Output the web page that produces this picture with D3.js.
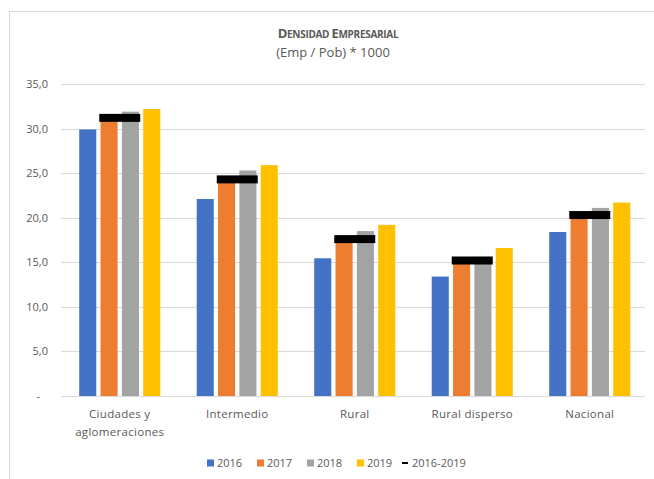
<!DOCTYPE html>
<meta charset="utf-8">
<html>
<head>
  <script src="https://d3js.org/d3.v7.min.js"></script>
  <style>
    body { margin: 0; background: #fff; }
    text { font-family: "Open Sans", sans-serif; fill: #595959; }
  </style>
</head>
<body>
<div id="chart"></div>
<script>
// data
var categories = ["Ciudades y aglomeraciones", "Intermedio", "Rural", "Rural disperso", "Nacional"];
var years = ["2016", "2017", "2018", "2019"];
var v2016 = [29.9, 22.1, 15.45, 13.4, 18.4];
var v2017 = [30.8, 24.0, 17.3, 15.0, 20.0];
var v2018 = [31.9, 25.3, 18.5, 15.6, 21.1];
var v2019 = [32.2, 25.9, 19.2, 16.6, 21.7];
var prom = [31.2, 24.3, 17.6, 15.2, 20.3]; // 2016-2019
var yTicks = [0, 5, 10, 15, 20, 25, 30, 35];

var series = [v2016, v2017, v2018, v2019];
var colores = ["#4472C4", "#ED7D31", "#A3A3A3", "#FFC000"];

var W = 654, H = 479;
var svg = d3.select("#chart").append("svg")
  .attr("width", W).attr("height", H);

// light frame (only top/left visible in the original)
svg.append("rect")
  .attr("x", 9.5).attr("y", 11.5)
  .attr("width", 700).attr("height", 600)
  .attr("fill", "none").attr("stroke", "#D9D9D9");

var x0 = d3.scaleBand().domain(categories)
  .range([61, 648.5]).paddingInner(0.31).paddingOuter(0.155);
var x1 = d3.scaleBand().domain(years)
  .range([0, x0.bandwidth()]).paddingInner(0.2);
var y = d3.scaleLinear().domain([0, 35]).range([396, 84]);

// gridlines
svg.append("g").selectAll("line")
  .data(yTicks)
  .enter().append("line")
  .attr("x1", 61).attr("x2", 645)
  .attr("y1", function(d) { return Math.round(y(d)) + 0.5; })
  .attr("y2", function(d) { return Math.round(y(d)) + 0.5; })
  .attr("stroke", "#D9D9D9").attr("stroke-width", 1);

// y labels
svg.append("g").selectAll("text")
  .data(yTicks)
  .enter().append("text")
  .attr("x", function(d) { return d === 0 ? 40 : 48; })
  .attr("y", function(d) { return y(d) + 4; })
  .attr("text-anchor", "end")
  .style("font-size", "11px")
  .text(function(d) { return d === 0 ? "-" : d3.format(".1f")(d).replace(".", ","); });

// bars
years.forEach(function(yr, i) {
  svg.append("g").selectAll("rect")
    .data(series[i])
    .enter().append("rect")
    .attr("x", function(d, j) { return x0(categories[j]) + x1(yr); })
    .attr("y", function(d) { return y(d); })
    .attr("width", x1.bandwidth())
    .attr("height", function(d) { return y(0) - y(d); })
    .attr("fill", colores[i]);
});

// 2016-2019 dash markers
svg.append("g").selectAll("rect")
  .data(prom)
  .enter().append("rect")
  .attr("x", function(d, j) { return x0(categories[j]) + x0.bandwidth() / 2 - 20.5; })
  .attr("y", function(d) { return y(d) - 4; })
  .attr("width", 41)
  .attr("height", 8)
  .attr("fill", "#000");

// x labels
var xl = svg.append("g").selectAll("text")
  .data(categories)
  .enter().append("text")
  .attr("x", function(d) { return x0(d) + x0.bandwidth() / 2; })
  .attr("y", 418)
  .attr("text-anchor", "middle")
  .style("font-size", "11.5px")
  .style("letter-spacing", "0.3px");
xl.each(function(d) {
  var t = d3.select(this);
  if (d === "Ciudades y aglomeraciones") {
    t.append("tspan").attr("x", t.attr("x")).attr("dy", 0).text("Ciudades y");
    t.append("tspan").attr("x", t.attr("x")).attr("dy", 18).text("aglomeraciones");
  } else {
    t.text(d);
  }
});

// title
var tt = svg.append("text")
  .attr("x", 338).attr("y", 38)
  .attr("text-anchor", "middle")
  .style("font-size", "13px").style("font-weight", "bold")
  .style("letter-spacing", "-0.3px");
tt.append("tspan").text("D");
tt.append("tspan").style("font-size", "10px").text("ENSIDAD ");
tt.append("tspan").text("E");
tt.append("tspan").style("font-size", "10px").text("MPRESARIAL");

svg.append("text")
  .attr("x", 333).attr("y", 57)
  .attr("text-anchor", "middle")
  .style("font-size", "13px")
  .text("(Emp / Pob) * 1000");

// legend
var legend = [
  {label: "2016", color: colores[0], x: 207},
  {label: "2017", color: colores[1], x: 257},
  {label: "2018", color: colores[2], x: 307},
  {label: "2019", color: colores[3], x: 357},
  {label: "2016-2019", color: "#000", x: 402, line: true}
];
var lg = svg.append("g").selectAll("g")
  .data(legend)
  .enter().append("g")
  .attr("transform", function(d) { return "translate(" + d.x + ",463)"; });
lg.append("rect")
  .attr("x", 0)
  .attr("y", function(d) { return d.line ? -1 : -3.5; })
  .attr("width", function(d) { return d.line ? 6 : 7; })
  .attr("height", function(d) { return d.line ? 2 : 7; })
  .attr("fill", function(d) { return d.color; });
lg.append("text")
  .attr("x", 10)
  .attr("y", 4)
  .style("font-size", "11px")
  .text(function(d) { return d.label; });
</script>
</body>
</html>
